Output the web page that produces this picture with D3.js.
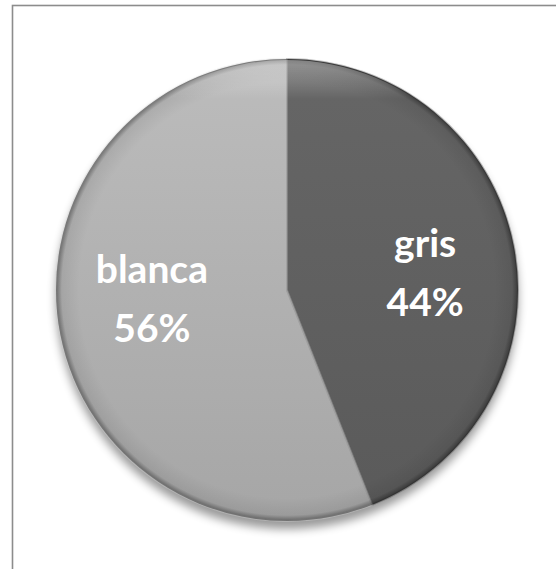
<!DOCTYPE html>
<html>
<head>
<meta charset="utf-8">
<script src="https://cdn.jsdelivr.net/npm/d3@7"></script>
<style>
  html, body { margin: 0; padding: 0; background: #fff; }
  svg { display: block; }
</style>
</head>
<body>
<svg id="chart" width="556" height="569"></svg>
<script>
// Slice data
const categories = ["gris", "blanca"];
const shares = [44, 56];
const sliceColors = ["#5a5a5a", "#a6a6a6"];
const sliceTops = ["#666666", "#bcbcbc"];
// per-label nudges from the arc centroid (px)
const labelNudge = [[2, 1], [1, -25]];

const W = 556, H = 569;
const cx = 287, cy = 290, R = 231;

const svg = d3.select("#chart");
const defs = svg.append("defs");

// frame (only top and left edges fall inside the view)
svg.append("rect")
  .attr("x", 12.5).attr("y", 5.5)
  .attr("width", W + 20).attr("height", H + 20)
  .attr("fill", "#fff")
  .attr("stroke", "#8c8c8c").attr("stroke-width", 1.6);

// soft shadow under the pie
const sh = defs.append("filter").attr("id", "shadow")
  .attr("x", "-20%").attr("y", "-20%").attr("width", "140%").attr("height", "140%");
sh.append("feGaussianBlur").attr("stdDeviation", 5);

// per-slice vertical shading
categories.forEach((c, i) => {
  const g = defs.append("linearGradient").attr("id", "fill" + i)
    .attr("gradientUnits", "userSpaceOnUse")
    .attr("x1", 0).attr("y1", -R).attr("x2", 0).attr("y2", R);
  g.append("stop").attr("offset", "0%").attr("stop-color", sliceTops[i]);
  g.append("stop").attr("offset", "100%").attr("stop-color", sliceColors[i]);
});

// rim bevel: darker ring near the edge
const rim = defs.append("radialGradient").attr("id", "rim")
  .attr("gradientUnits", "userSpaceOnUse")
  .attr("cx", 0).attr("cy", 0).attr("r", R);
rim.append("stop").attr("offset", "0.9").attr("stop-color", "#000").attr("stop-opacity", 0);
rim.append("stop").attr("offset", "0.975").attr("stop-color", "#000").attr("stop-opacity", 0.07);
rim.append("stop").attr("offset", "1").attr("stop-color", "#000").attr("stop-opacity", 0.4);

// top highlight on the rim
const hi = defs.append("linearGradient").attr("id", "hi")
  .attr("gradientUnits", "userSpaceOnUse")
  .attr("x1", 0).attr("y1", -R).attr("x2", 0).attr("y2", -R + 40);
hi.append("stop").attr("offset", "0").attr("stop-color", "#fff").attr("stop-opacity", 0.35);
hi.append("stop").attr("offset", "1").attr("stop-color", "#fff").attr("stop-opacity", 0);

const pie = d3.pie().sort(null).value(d => d.v);
const arcs = pie(categories.map((c, i) => ({ c, v: shares[i], i })));
const arc = d3.arc().innerRadius(0).outerRadius(R);
const labelArc = d3.arc().innerRadius(0).outerRadius(R * 1.2);

const g = svg.append("g").attr("transform", `translate(${cx},${cy})`);

// shadow
g.append("circle").attr("cx", 0).attr("cy", 8).attr("r", R)
  .attr("fill", "#000").attr("opacity", 0.4)
  .attr("filter", "url(#shadow)");

g.selectAll("path.slice").data(arcs).join("path")
  .attr("class", "slice")
  .attr("d", arc)
  .attr("fill", d => `url(#fill${d.data.i})`);

// seam shading along slice edges
g.selectAll("path.seam").data(arcs).join("path")
  .attr("class", "seam")
  .attr("d", arc)
  .attr("fill", "none")
  .attr("stroke", d => d.data.i === 0 ? "#3c3c3c" : "#d0d0d0")
  .attr("stroke-opacity", 0.35)
  .attr("stroke-width", 2);

g.append("circle").attr("r", R).attr("fill", "url(#rim)");
g.append("circle").attr("r", R - 1).attr("fill", "url(#hi)");

// labels
const lab = g.selectAll("text.lbl").data(arcs).join("text")
  .attr("class", "lbl")
  .attr("transform", d => {
    const [x, y] = labelArc.centroid(d);
    const n = labelNudge[d.data.i];
    return `translate(${x + n[0]},${y + n[1]})`;
  })
  .attr("text-anchor", "middle")
  .attr("fill", "#fff")
  .style("font-family", "Lato, 'Open Sans', sans-serif")
  .style("font-weight", 700)
  .style("font-size", "39px");
lab.append("tspan").attr("x", 0).attr("dy", "-0.2em").text(d => d.data.c);
lab.append("tspan").attr("x", 0).attr("dy", "1.5em").text(d => d.data.v + "%");
</script>
</body>
</html>
